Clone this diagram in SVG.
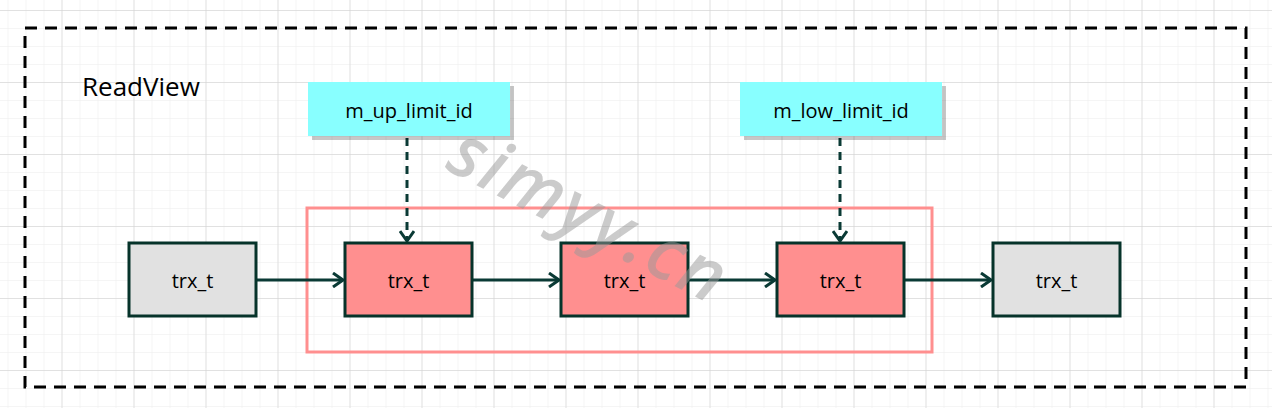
<svg xmlns="http://www.w3.org/2000/svg" width="1272" height="408" viewBox="0 0 1272 408">
<style>
.lbl{font-family:"Open Sans","Liberation Sans",sans-serif;font-size:20px;fill:#000;text-anchor:middle;dominant-baseline:central}
.node{stroke:#06332a;stroke-width:3}
.gray{fill:#e1e1e1}
.red{fill:#ff8f8f}
.cyan{fill:#88ffff}
.shadow{fill:#000;opacity:0.22}
.conn{stroke:#0a3a35;stroke-width:3;fill:none}
.dash{stroke-dasharray:8 6}
</style>
<defs>
<pattern id="minor" width="18" height="18" patternUnits="userSpaceOnUse" x="7.5" y="10">
<path d="M0 0H18M0 0V18" stroke="#ececec" stroke-width="1" fill="none"/>
</pattern>
<pattern id="major" width="72" height="72" patternUnits="userSpaceOnUse" x="61.5" y="10">
<path d="M0 0H72M0 0V72" stroke="#cdcdcd" stroke-width="1" fill="none"/>
</pattern>
<marker id="arr" markerWidth="14" markerHeight="16" refX="12" refY="8" orient="auto" markerUnits="userSpaceOnUse">
<path d="M2 1L12 8L2 15" fill="none" stroke="#0a3a35" stroke-width="3"/>
</marker>
</defs>
<rect width="1272" height="408" fill="#fff"/>
<rect width="1272" height="408" fill="url(#minor)"/>
<rect width="1272" height="408" fill="url(#major)"/>
<g id="readview">
<rect x="25" y="28" width="1221" height="359" fill="none" stroke="#000" stroke-width="3" stroke-dasharray="12 8"/>
<text x="82" y="86" font-family="Open Sans, Liberation Sans, sans-serif" font-size="26" fill="#000" dominant-baseline="central">ReadView</text>
</g>
<g id="range">
<rect x="307" y="208" width="625" height="144" fill="none" stroke="#ff8f8f" stroke-width="3"/>
</g>
<g id="connectors">
<line class="conn" x1="256" y1="280" x2="343" y2="280" marker-end="url(#arr)"/>
<line class="conn" x1="472" y1="280" x2="559" y2="280" marker-end="url(#arr)"/>
<line class="conn" x1="688" y1="280" x2="775" y2="280" marker-end="url(#arr)"/>
<line class="conn" x1="904" y1="280" x2="991" y2="280" marker-end="url(#arr)"/>
<line class="conn dash" x1="407" y1="138" x2="407" y2="241" marker-end="url(#arr)"/>
<line class="conn dash" x1="840" y1="138" x2="840" y2="241" marker-end="url(#arr)"/>
</g>
<g id="up">
<rect class="shadow" x="312" y="86" width="202" height="54"/>
<rect class="cyan" x="308" y="82" width="202" height="54"/>
<text class="lbl" x="409" y="110">m_up_limit_id</text>
</g>
<g id="low">
<rect class="shadow" x="744" y="86" width="202" height="54"/>
<rect class="cyan" x="740" y="82" width="202" height="54"/>
<text class="lbl" x="841" y="110">m_low_limit_id</text>
</g>
<g id="t1"><rect class="node gray" x="129" y="243" width="127" height="73"/><text class="lbl" x="192.5" y="280">trx_t</text></g>
<g id="t2"><rect class="node red" x="345" y="243" width="127" height="73"/><text class="lbl" x="408.5" y="280">trx_t</text></g>
<g id="t3"><rect class="node red" x="561" y="243" width="127" height="73"/><text class="lbl" x="624.5" y="280">trx_t</text></g>
<g id="t4"><rect class="node red" x="777" y="243" width="127" height="73"/><text class="lbl" x="840.5" y="280">trx_t</text></g>
<g id="t5"><rect class="node gray" x="993" y="243" width="127" height="73"/><text class="lbl" x="1056.5" y="280">trx_t</text></g>
<g id="watermark">
<text x="0" y="0" transform="translate(445,168) rotate(27)" font-family="Open Sans, Liberation Sans, sans-serif" font-size="70" font-style="italic" fill="#999" opacity="0.5" stroke="#999" stroke-width="2" letter-spacing="5">simyy.cn</text>
</g>
</svg>
